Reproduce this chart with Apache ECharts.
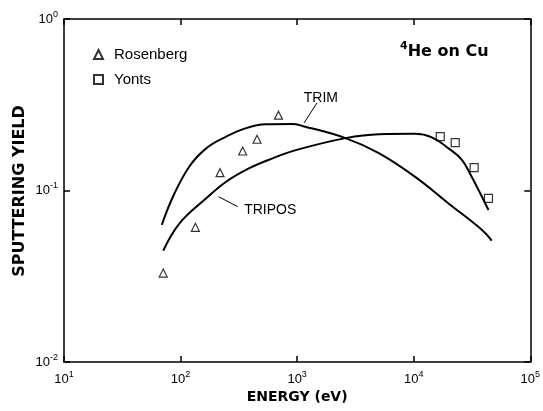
<!DOCTYPE html>
<html>
<head>
<meta charset="utf-8">
<script src="https://cdn.jsdelivr.net/npm/echarts@6/dist/echarts.min.js"></script>
<style>
  html, body { margin: 0; padding: 0; background: #fff; }
  #chart { width: 543px; height: 411px; }
</style>
</head>
<body>
<div id="chart"></div>
<script>
// measured points (energy in eV, sputtering yield)
const rosenbergEnergy = [71, 134, 218, 341, 453, 692];
const rosenbergYield = [0.033, 0.061, 0.127, 0.170, 0.199, 0.275];

const yontsEnergy = [16900, 22700, 33000, 43800];
const yontsYield = [0.206, 0.190, 0.136, 0.090];

// calculated curves
const trimEnergy = [69, 86, 119, 166, 246, 365, 540, 912, 1110, 2600, 5020, 10300, 19900, 38400, 46700];
const trimYield = [0.063, 0.092, 0.138, 0.176, 0.206, 0.231, 0.243, 0.244, 0.238, 0.202, 0.165, 0.120, 0.084, 0.059, 0.051];

const triposEnergy = [71, 98, 166, 246, 389, 615, 975, 2600, 5020, 10300, 14300, 19900, 25900, 31500, 37200, 43800];
const triposYield = [0.0446, 0.0644, 0.090, 0.1125, 0.135, 0.154, 0.172, 0.202, 0.213, 0.214, 0.204, 0.176, 0.151, 0.120, 0.0964, 0.077];

const xTickExp = [1, 2, 3, 4, 5];
const yTickExp = [0, -1, -2];

// curve labels with their leader lines, in data coordinates
const trimNote = { text: 'TRIM', at: [1600, 0.346], line: [[1480, 0.324], [1148, 0.248]] };
const triposNote = { text: 'TRIPOS', at: [588, 0.077], line: [[309, 0.0805], [212, 0.092]] };

const FONT = 'Liberation Sans';
const BOLD = 'DejaVu Sans';

const zip = (xs, ys) => xs.map((x, i) => [x, ys[i]]);

const expLabel = (list) => (v) => {
  const e = Math.round(Math.log10(v));
  return list.indexOf(e) >= 0 ? '{b|10}{s|' + e + '}' : '';
};
const labelRich = {
  b: { fontSize: 13, fontFamily: FONT, color: '#000' },
  s: { fontSize: 9, fontFamily: FONT, color: '#000', padding: [0, 0, 9, 0] }
};

const axisBase = {
  type: 'log',
  logBase: 10,
  axisLine: { lineStyle: { color: '#000', width: 1.5 } },
  axisTick: { inside: true, length: 6, lineStyle: { color: '#000', width: 1.5 } },
  splitLine: { show: false },
  minorTick: { show: false }
};

const note = (n) => ({
  markLine: {
    silent: true,
    symbol: ['none', 'none'],
    label: { show: false },
    lineStyle: { color: '#000', width: 1, type: 'solid' },
    data: [[{ coord: n.line[0] }, { coord: n.line[1] }]]
  },
  markPoint: {
    silent: true,
    symbolSize: 0,
    label: { show: true, position: 'inside', formatter: n.text, color: '#000', fontSize: 14, fontFamily: FONT },
    data: [{ coord: n.at }]
  }
});

const chart = echarts.init(document.getElementById('chart'));

chart.setOption({
  backgroundColor: '#fff',
  animation: false,
  textStyle: { fontFamily: FONT, color: '#000' },
  title: {
    text: '{s|4}{b|He on Cu}',
    left: 395,
    top: 36,
    textStyle: {
      rich: {
        b: { fontSize: 16, fontWeight: 'bold', fontFamily: BOLD, color: '#000' },
        s: { fontSize: 11, fontWeight: 'bold', fontFamily: BOLD, color: '#000', padding: [0, 0, 10, 0] }
      }
    }
  },
  legend: {
    orient: 'vertical',
    left: 88,
    top: 42,
    itemGap: 10,
    itemWidth: 9,
    itemHeight: 9,
    data: ['Rosenberg', 'Yonts'],
    textStyle: { fontSize: 15, fontFamily: FONT, color: '#000', padding: [0, 0, 0, 6] }
  },
  graphic: [{
    type: 'text',
    rotation: Math.PI / 2,
    x: 20, y: 191,
    style: {
      text: 'SPUTTERING YIELD',
      font: 'bold 16px "DejaVu Sans"',
      fill: '#000',
      align: 'center',
      verticalAlign: 'middle'
    }
  }],
  grid: { left: 64, right: 11, top: 19, bottom: 49 },
  xAxis: [
    Object.assign({}, axisBase, {
      position: 'bottom',
      min: 10, max: 100000,
      axisLabel: { formatter: expLabel(xTickExp), rich: labelRich, margin: 8 },
      name: 'ENERGY (eV)',
      nameLocation: 'middle',
      nameGap: 28,
      nameTextStyle: { fontSize: 14, fontWeight: 'bold', fontFamily: BOLD, color: '#000' }
    }),
    Object.assign({}, axisBase, {
      position: 'top',
      min: 10, max: 100000,
      axisLabel: { show: false }
    })
  ],
  yAxis: [
    Object.assign({}, axisBase, {
      position: 'left',
      min: 0.01, max: 1,
      axisLabel: { formatter: expLabel(yTickExp), rich: labelRich, margin: 6 }
    }),
    Object.assign({}, axisBase, {
      position: 'right',
      min: 0.01, max: 1,
      axisLabel: { show: false }
    })
  ],
  series: [
    Object.assign({
      name: 'TRIM',
      type: 'line',
      data: zip(trimEnergy, trimYield),
      smooth: 0.4,
      showSymbol: false,
      lineStyle: { color: '#000', width: 2 },
      itemStyle: { color: '#000' }
    }, note(trimNote)),
    Object.assign({
      name: 'TRIPOS',
      type: 'line',
      data: zip(triposEnergy, triposYield),
      smooth: 0.4,
      showSymbol: false,
      lineStyle: { color: '#000', width: 2 },
      itemStyle: { color: '#000' }
    }, note(triposNote)),
    {
      name: 'Rosenberg',
      type: 'scatter',
      symbol: 'triangle',
      symbolSize: 8,
      data: zip(rosenbergEnergy, rosenbergYield),
      itemStyle: { color: '#fff', borderColor: '#000', borderWidth: 1.2 }
    },
    {
      name: 'Yonts',
      type: 'scatter',
      symbol: 'rect',
      symbolSize: 8,
      data: zip(yontsEnergy, yontsYield),
      itemStyle: { color: '#fff', borderColor: '#000', borderWidth: 1.2 }
    }
  ]
});
</script>
</body>
</html>
